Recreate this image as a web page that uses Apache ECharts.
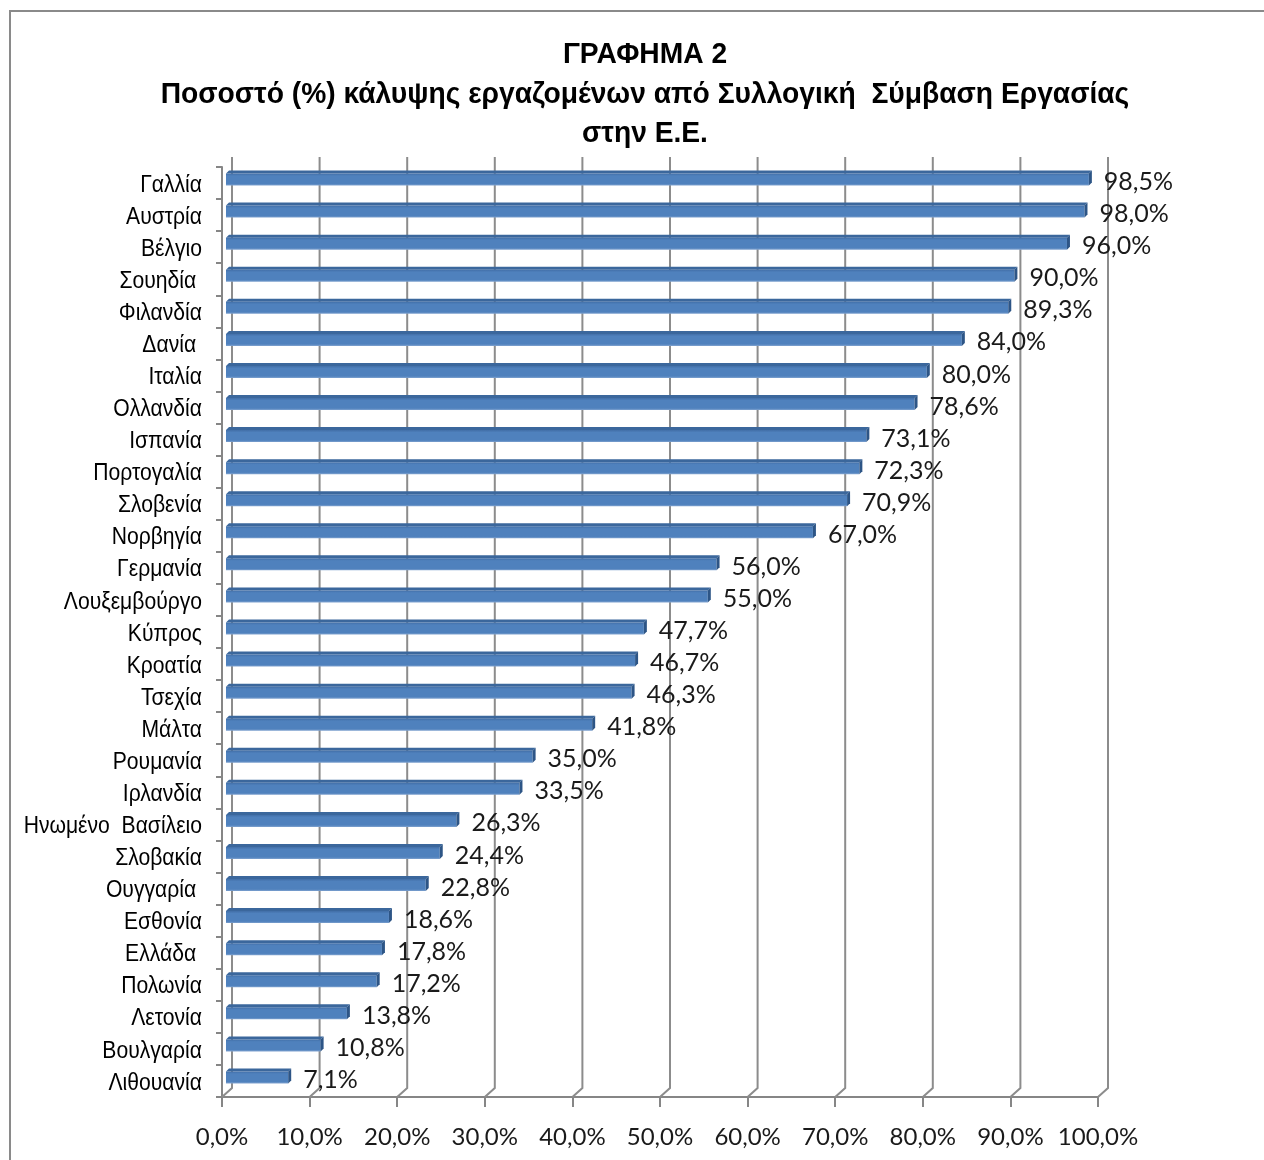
<!DOCTYPE html>
<html>
<head>
<meta charset="utf-8">
<script src="https://cdn.jsdelivr.net/npm/echarts@6/dist/echarts.min.js"></script>
<style>
  html, body { margin: 0; padding: 0; background: #fff; }
  #chart { width: 1264px; height: 1160px; }
</style>
</head>
<body>
<div id="chart"></div>
<script>
// Collective agreement coverage by EU country (%)
const countries = [
  'Γαλλία', 'Αυστρία', 'Βέλγιο', 'Σουηδία ', 'Φιλανδία', 'Δανία ', 'Ιταλία',
  'Ολλανδία', 'Ισπανία', 'Πορτογαλία', 'Σλοβενία', 'Νορβηγία', 'Γερμανία',
  'Λουξεμβούργο', 'Κύπρος', 'Κροατία', 'Τσεχία', 'Μάλτα', 'Ρουμανία',
  'Ιρλανδία', 'Ηνωμένο  Βασίλειο', 'Σλοβακία', 'Ουγγαρία ', 'Εσθονία',
  'Ελλάδα ', 'Πολωνία', 'Λετονία', 'Βουλγαρία', 'Λιθουανία'
];
const coverage = [
  98.5, 98.0, 96.0, 90.0, 89.3, 84.0, 80.0,
  78.6, 73.1, 72.3, 70.9, 67.0, 56.0,
  55.0, 47.7, 46.7, 46.3, 41.8, 35.0,
  33.5, 26.3, 24.4, 22.8, 18.6,
  17.8, 17.2, 13.8, 10.8, 7.1
];
const gridTicks = [0, 10, 20, 30, 40, 50, 60, 70, 80, 90, 100];

const titleLines = ['ΓΡΑΦΗΜΑ 2',
  'Ποσοστό (%) κάλυψης εργαζομένων από Συλλογική  Σύμβαση Εργασίας',
  'στην Ε.Ε.'];

const pct = v => v.toFixed(1).replace('.', ',') + '%';

// depth of the pseudo-3D back wall, in pixels
const WALL_DX = 10, WALL_DY = 10;

const SANS = '"Liberation Sans", Arial, sans-serif';
const NUM_FONT = 'Lato, "Open Sans", sans-serif';

// condensed-looking title: three centred lines, squeezed horizontally
const titleGraphics = titleLines.map((line, k) => ({
  type: 'text',
  x: 645,
  y: 55 + k * 39.5,
  scaleX: 0.94,
  silent: true,
  style: {
    text: line,
    x: 0, y: 0,
    align: 'center',
    verticalAlign: 'middle',
    fontFamily: SANS,
    fontWeight: 'bold',
    fontSize: 30,
    fill: '#000'
  }
}));

const chart = echarts.init(document.getElementById('chart'));

chart.setOption({
  animation: false,
  backgroundColor: '#ffffff',
  graphic: [{
    type: 'rect',
    shape: { x: 10, y: 11, width: 1400, height: 1400 },
    style: { fill: 'none', stroke: '#8a8a8a', lineWidth: 2 },
    silent: true
  }].concat(titleGraphics),
  grid: { left: 222, right: 166, top: 167, bottom: 63, containLabel: false },
  xAxis: {
    type: 'value',
    min: 0, max: 100, interval: 10,
    axisLine: { show: true, lineStyle: { color: '#868686', width: 2 } },
    axisTick: { show: true, length: 10, lineStyle: { color: '#868686', width: 2 } },
    splitLine: { show: false },
    axisLabel: {
      margin: 28,
      fontFamily: NUM_FONT,
      fontSize: 24,
      color: '#1a1a1a',
      formatter: pct
    }
  },
  yAxis: {
    type: 'category',
    inverse: true,
    data: countries,
    axisLine: { show: true, lineStyle: { color: '#868686', width: 2 } },
    axisTick: { show: true, length: 6, lineStyle: { color: '#868686', width: 2 } },
    axisLabel: { show: false }
  },
  series: [
    {
      // back-wall gridlines with their slanted feet down to the front axis
      type: 'custom',
      silent: true,
      z: 1,
      data: gridTicks.map(v => [v, 0]),
      renderItem: function (params, api) {
        const cs = params.coordSys;
        const x = api.coord([api.value(0), 0])[0];
        const bottom = cs.y + cs.height;
        return {
          type: 'polyline',
          shape: {
            points: [
              [x + WALL_DX, cs.y - WALL_DY],
              [x + WALL_DX, bottom - WALL_DY + 1],
              [x, bottom]
            ]
          },
          style: { stroke: '#8c8c8c', lineWidth: 2, fill: 'none' }
        };
      }
    },
    {
      // country names, right-aligned against the category axis, condensed
      type: 'custom',
      silent: true,
      z: 3,
      clip: false,
      data: countries.map((c, i) => [0, i]),
      renderItem: function (params, api) {
        const i = api.value(1);
        const p = api.coord([0, i]);
        return {
          type: 'text',
          x: p[0] - 20,
          y: p[1] + 2,
          scaleX: 0.88,
          style: {
            text: countries[i],
            x: 0, y: 0,
            align: 'right',
            verticalAlign: 'middle',
            fontFamily: SANS,
            fontSize: 24,
            fill: '#000'
          }
        };
      }
    },
    {
      // pseudo-3D horizontal bars with value labels
      type: 'custom',
      z: 5,
      clip: false,
      data: coverage.map((v, i) => [v, i]),
      renderItem: function (params, api) {
        const i = api.value(1);
        const p0 = api.coord([0, i]);
        const p1 = api.coord([api.value(0), i]);
        const x0 = p0[0] + 4;
        const x1 = p1[0] + 4;
        const cy = p0[1];
        const top = cy - 9.5, bot = cy + 2.5, d = 3;
        return {
          type: 'group',
          children: [
            { // top face
              type: 'polygon',
              shape: { points: [[x0, top], [x0 + d, top - d], [x1 + d, top - d], [x1, top]] },
              style: { fill: '#3b679c' }
            },
            { // front face
              type: 'rect',
              shape: { x: x0, y: top, width: x1 - x0, height: bot - top },
              style: {
                fill: {
                  type: 'linear', x: 0, y: 0, x2: 0, y2: 1,
                  colorStops: [
                    { offset: 0, color: '#426fa8' },
                    { offset: 0.2, color: '#4f81bd' },
                    { offset: 0.85, color: '#4f81bd' },
                    { offset: 1, color: '#7fa2cf' }
                  ]
                }
              }
            },
            { // right side face
              type: 'polygon',
              shape: { points: [[x1, top], [x1 + d, top - d], [x1 + d, bot - d], [x1, bot]] },
              style: { fill: '#2d5586' }
            },
            { // value label
              type: 'text',
              style: {
                text: pct(api.value(0)),
                x: x1 + 15,
                y: cy - 1,
                align: 'left',
                verticalAlign: 'middle',
                fontFamily: NUM_FONT,
                fontSize: 25,
                fill: '#1a1a1a'
              }
            }
          ]
        };
      }
    }
  ]
});
</script>
</body>
</html>
